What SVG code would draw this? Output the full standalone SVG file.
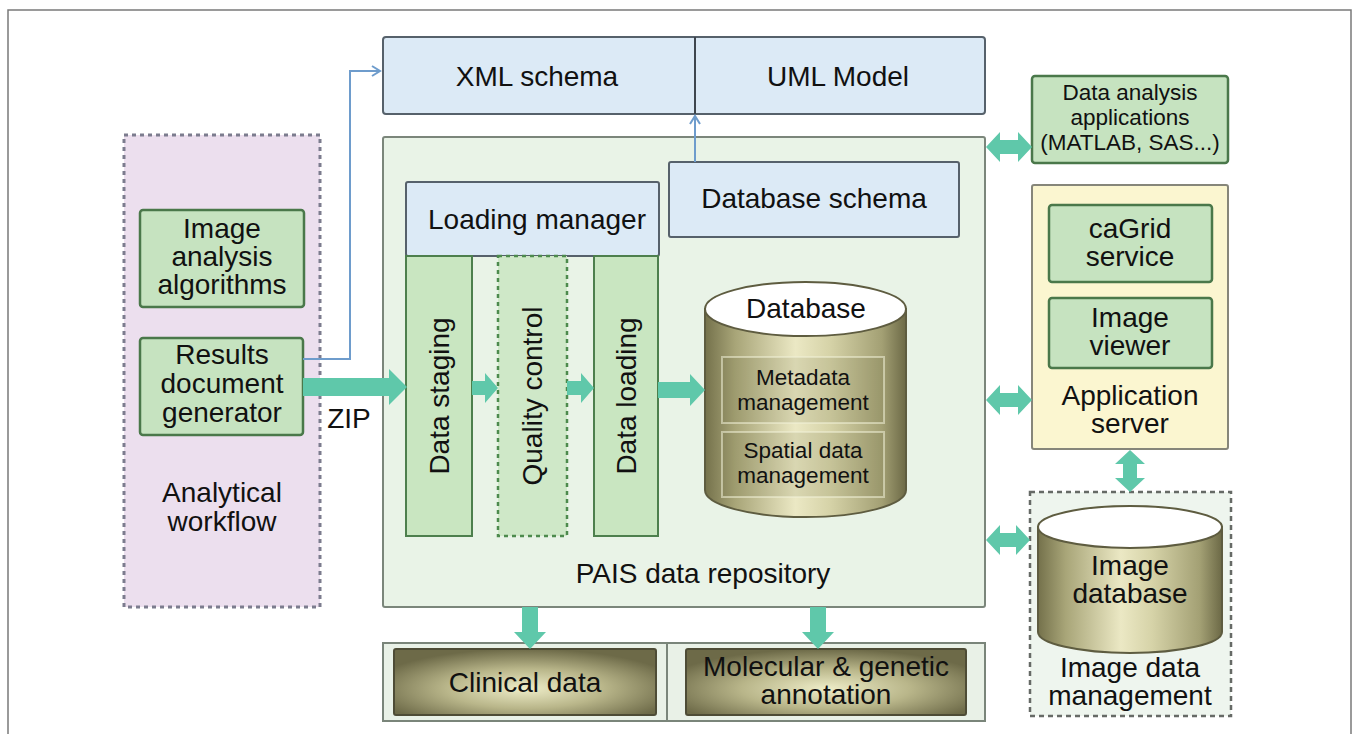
<svg xmlns="http://www.w3.org/2000/svg" width="1353" height="734" viewBox="0 0 1353 734">
  <style>
    text { font-family: "Liberation Sans", Arial, sans-serif; fill: #111; text-anchor: middle; }
    .t28 { font-size: 28px; }
    .t22 { font-size: 22.5px; }
    .frame { fill: none; stroke: #7a7a7a; stroke-width: 1.5; }
    .blue { fill: #dceaf6; stroke: #56616b; stroke-width: 2; }
    .green { fill: #c6e3c0; stroke: #4a784a; stroke-width: 2.5; }
    .col { fill: #c9e6c1; stroke: #4d7f4d; stroke-width: 2; }
    .qc { fill: #cfe8c8; stroke: #4d8a4d; stroke-width: 2.5; stroke-dasharray: 4 4; }
    .pais { fill: #e9f3e7; stroke: #7b867b; stroke-width: 2; }
    .appsrv { fill: #fbf6d0; stroke: #86867a; stroke-width: 2; }
    .workflow { fill: #ecdfee; stroke: #7c7c8e; stroke-width: 3; stroke-dasharray: 4 4; }
    .imgmgmt { fill: #eef5ee; stroke: #666a66; stroke-width: 2.5; stroke-dasharray: 5 4; }
    .teal { fill: #5fc8aa; }
    .bluelink { fill: none; stroke: #6e9ccc; stroke-width: 2; }
    .cylbody { fill: url(#olive); stroke: #5e5c40; stroke-width: 2; }
    .cyltop { fill: #ffffff; stroke: #5e5c40; stroke-width: 2; }
    .inner { fill: rgba(90, 88, 50, 0.12); stroke: rgba(240, 240, 215, 0.55); stroke-width: 2; }
    .tray { fill: #e9f1e7; stroke: #7a857a; stroke-width: 2; }
    .slab { fill: url(#slab); stroke: #4e4c36; stroke-width: 2; }
  </style>
  <defs>
    <linearGradient id="olive" x1="0" y1="0" x2="1" y2="0">
      <stop offset="0" stop-color="#74714b"/>
      <stop offset="0.15" stop-color="#a8a578"/>
      <stop offset="0.45" stop-color="#ebe8c4"/>
      <stop offset="0.62" stop-color="#d6d3a8"/>
      <stop offset="0.88" stop-color="#a3a074"/>
      <stop offset="1" stop-color="#6c6946"/>
    </linearGradient>
    <radialGradient id="slab" cx="0.5" cy="0.6" r="0.6">
      <stop offset="0" stop-color="#eeedc8"/>
      <stop offset="0.5" stop-color="#b9b68a"/>
      <stop offset="1" stop-color="#6d6a48"/>
    </radialGradient>
    <marker id="chev" viewBox="0 0 12 12" refX="10" refY="6" markerWidth="12" markerHeight="12" markerUnits="userSpaceOnUse" orient="auto">
      <path d="M2,1 L10,6 L2,11" fill="none" stroke="#6e9ccc" stroke-width="2"/>
    </marker>
  </defs>

  <!-- outer frame, open at the bottom -->
  <path class="frame" d="M8,734 L8,10 L1351,10 L1351,734"/>

  <g id="analytical-workflow">
    <rect class="workflow" x="124" y="135" width="196" height="472"/>
    <text class="t28" x="222" y="502">Analytical</text>
    <text class="t28" x="222" y="531">workflow</text>
  </g>

  <g id="image-analysis">
    <rect class="green" x="140" y="210" width="164" height="97" rx="3"/>
    <text class="t28" x="222" y="238">Image</text>
    <text class="t28" x="222" y="266">analysis</text>
    <text class="t28" x="222" y="294">algorithms</text>
  </g>

  <g id="results-generator">
    <rect class="green" x="140" y="338" width="163" height="97" rx="3"/>
    <text class="t28" x="222" y="364">Results</text>
    <text class="t28" x="222" y="393">document</text>
    <text class="t28" x="222" y="422">generator</text>
  </g>

  <g id="schemas">
    <rect class="blue" x="383" y="37" width="602" height="77" rx="3"/>
    <line x1="695" y1="37" x2="695" y2="114" stroke="#3e464e" stroke-width="2"/>
    <text class="t28" x="537" y="86">XML schema</text>
    <text class="t28" x="838" y="86">UML Model</text>
  </g>

  <g id="pais-repository">
    <rect class="pais" x="383" y="137" width="602" height="470" rx="2"/>
    <text class="t28" x="703" y="583">PAIS data repository</text>
  </g>

  <g id="database-schema">
    <rect class="blue" x="669" y="162" width="290" height="75" rx="2"/>
    <text class="t28" x="814" y="208">Database schema</text>
  </g>

  <g id="loading-manager">
    <rect class="blue" x="406" y="182" width="253" height="74" rx="2"/>
    <text class="t28" x="537" y="229">Loading manager</text>
  </g>

  <g id="data-staging">
    <rect class="col" x="406" y="256" width="66" height="280"/>
    <text class="t28" transform="translate(439,396) rotate(-90)" y="10">Data staging</text>
  </g>

  <g id="quality-control">
    <rect class="qc" x="498" y="256" width="69" height="280"/>
    <text class="t28" transform="translate(532,396) rotate(-90)" y="10">Quality control</text>
  </g>

  <g id="data-loading">
    <rect class="col" x="594" y="256" width="64" height="280"/>
    <text class="t28" transform="translate(626,396) rotate(-90)" y="10">Data loading</text>
  </g>

  <g id="database">
    <path class="cylbody" d="M705,309 L705,490 A100.5,27 0 0 0 906,490 L906,309 Z"/>
    <ellipse class="cyltop" cx="805.5" cy="309" rx="100.5" ry="27"/>
    <text class="t28" x="806" y="318">Database</text>
    <rect class="inner" x="722" y="357" width="162" height="66"/>
    <text class="t22" x="803" y="385">Metadata</text>
    <text class="t22" x="803" y="410">management</text>
    <rect class="inner" x="722" y="432" width="162" height="65"/>
    <text class="t22" x="803" y="458">Spatial data</text>
    <text class="t22" x="803" y="483">management</text>
  </g>

  <g id="clinical-data">
    <rect class="tray" x="383" y="643" width="284" height="78"/>
    <rect class="slab" x="394" y="649" width="262" height="66" rx="2"/>
    <text class="t28" x="525" y="692">Clinical data</text>
  </g>

  <g id="molecular-annotation">
    <rect class="tray" x="667" y="643" width="318" height="78"/>
    <rect class="slab" x="686" y="649" width="280" height="66" rx="2"/>
    <text class="t28" x="826" y="676">Molecular &amp; genetic</text>
    <text class="t28" x="826" y="704">annotation</text>
  </g>

  <g id="data-analysis-apps">
    <rect class="green" x="1032" y="76" width="196" height="87" rx="3"/>
    <text class="t22" x="1130" y="100">Data analysis</text>
    <text class="t22" x="1130" y="125">applications</text>
    <text class="t22" x="1130" y="150">(MATLAB, SAS...)</text>
  </g>

  <g id="application-server">
    <rect class="appsrv" x="1032" y="185" width="196" height="264" rx="2"/>
    <text class="t28" x="1130" y="405">Application</text>
    <text class="t28" x="1130" y="433">server</text>
  </g>

  <g id="cagrid-service">
    <rect class="green" x="1049" y="205" width="163" height="77" rx="3"/>
    <text class="t28" x="1130" y="238">caGrid</text>
    <text class="t28" x="1130" y="266">service</text>
  </g>

  <g id="image-viewer">
    <rect class="green" x="1049" y="298" width="163" height="70" rx="3"/>
    <text class="t28" x="1130" y="327">Image</text>
    <text class="t28" x="1130" y="355">viewer</text>
  </g>

  <g id="image-data-management">
    <rect class="imgmgmt" x="1030" y="492" width="201" height="224"/>
    <path class="cylbody" d="M1038,527 L1038,632 A92,21 0 0 0 1222,632 L1222,527 Z"/>
    <ellipse class="cyltop" cx="1130" cy="527" rx="92" ry="21"/>
    <text class="t28" x="1130" y="575">Image</text>
    <text class="t28" x="1130" y="603">database</text>
    <text class="t28" x="1130" y="677">Image data</text>
    <text class="t28" x="1130" y="705">management</text>
  </g>

  <g id="connectors">
    <!-- thin schema links -->
    <polyline class="bluelink" points="303,359 350,359 350,71 380,71" marker-end="url(#chev)"/>
    <line class="bluelink" x1="695" y1="162" x2="695" y2="116" marker-end="url(#chev)"/>
    <!-- ZIP transfer and loading pipeline -->
    <polygon class="teal" points="303,378 389,378 389,369 407,387 389,405 389,396 303,396"/>
    <text class="t28" x="349" y="428">ZIP</text>
    <polygon class="teal" points="472,381 485,381 485,373 498,388 485,403 485,395 472,395"/>
    <polygon class="teal" points="567,381 581,381 581,373 594,388 581,403 581,395 567,395"/>
    <polygon class="teal" points="658,382 690,382 690,374 705,390 690,406 690,398 658,398"/>
    <!-- two-way links on the right -->
    <polygon class="teal" points="986,147 1000,132 1000,140 1018,140 1018,132 1032,147 1018,162 1018,154 1000,154 1000,162"/>
    <polygon class="teal" points="986,400 1000,385 1000,393 1018,393 1018,385 1032,400 1018,415 1018,407 1000,407 1000,415"/>
    <polygon class="teal" points="986,540 1000,525 1000,533 1016,533 1016,525 1030,540 1016,555 1016,547 1000,547 1000,555"/>
    <polygon class="teal" points="1130,450 1145,464 1137,464 1137,478 1145,478 1130,492 1115,478 1123,478 1123,464 1115,464"/>
    <!-- repository exports -->
    <polygon class="teal" points="522,607 538,607 538,632 546,632 530,649 514,632 522,632"/>
    <polygon class="teal" points="810,607 826,607 826,632 834,632 818,649 802,632 810,632"/>
  </g>
</svg>
